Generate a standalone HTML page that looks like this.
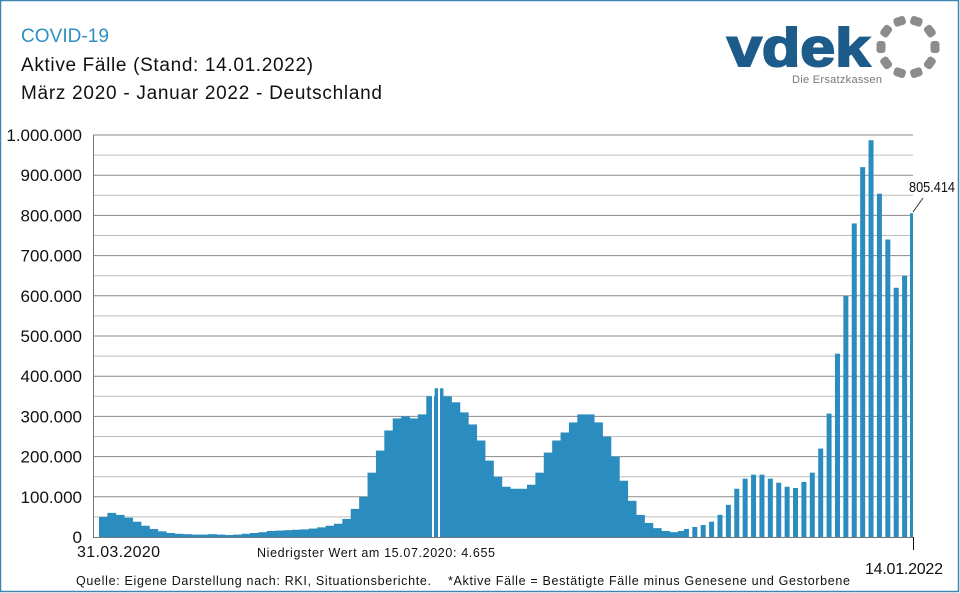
<!DOCTYPE html>
<html><head><meta charset="utf-8"><style>
body{margin:0;background:#fff}
svg{display:block;font-family:"Liberation Sans",sans-serif}
</style></head><body>
<svg id="chart" width="960" height="593" viewBox="0 0 960 593" xmlns="http://www.w3.org/2000/svg">
<rect x="0.5" y="0.5" width="958" height="591" fill="#fff" stroke="#3f86b0" stroke-width="1.5"/>
<text x="21" y="42" font-size="19" fill="#2f8fc4" textLength="88">COVID-19</text>
<text x="21" y="71" font-size="19" fill="#111" textLength="292">Aktive Fälle (Stand: 14.01.2022)</text>
<text x="21" y="99" font-size="19" fill="#111" textLength="361">März 2020 - Januar 2022 - Deutschland</text>
<g>
<text x="727" y="66" font-size="54" font-weight="bold" fill="#1d5b8a" stroke="#1d5b8a" stroke-width="2" textLength="143" lengthAdjust="spacingAndGlyphs">vdek</text>
<text x="792" y="83" font-size="11" fill="#777" textLength="90">Die Ersatzkassen</text>
<g id="logoRing" fill="#8c8c8c"></g>
</g>
<g id="grid"></g>
<g id="bars"></g>
<g id="axis"></g>
<text x="77" y="557" font-size="16" fill="#111" textLength="83">31.03.2020</text>
<text x="257" y="557" font-size="12.5" fill="#111" textLength="238">Niedrigster Wert am 15.07.2020: 4.655</text>
<text x="865" y="574" font-size="16" fill="#111" textLength="78">14.01.2022</text>
<text x="76" y="585" font-size="12.5" fill="#111" textLength="355">Quelle: Eigene Darstellung nach: RKI, Situationsberichte.</text>
<text x="448" y="585" font-size="12.5" fill="#111" textLength="402">*Aktive Fälle = Bestätigte Fälle minus Genesene und Gestorbene</text>
<text x="909" y="192" font-size="15" fill="#111" textLength="46" lengthAdjust="spacingAndGlyphs">805.414</text>
<line x1="913" y1="212" x2="923" y2="198" stroke="#333" stroke-width="1"/>
</svg>
<script>
const yTicks = [0,100000,200000,300000,400000,500000,600000,700000,800000,900000,1000000];
const yTickLabels = ["0","100.000","200.000","300.000","400.000","500.000","600.000","700.000","800.000","900.000","1.000.000"];
const weeklyActive = [50,60,55,48,38,28,20,14,10,8,7,6,6,7,6,5,6,8,10,12,15,16,17,18,19,21,24,28,33,45,70,100,160,215,265,295,300,295,305,350,370,350,335,310,280,240,190,150,125,120,120,130,160,210,240,260,285,305,305,285,250,200,140,90,55,35,22,15,12,15,20,25,30,38,55,80,120,145,155,155,145,135,125,122,137,160,220,307,456,600,780,920,987,854,740,620,650,805.414];
const gapStartIndex = 70;

const NS="http://www.w3.org/2000/svg";
const X0=99, X1=913, Y0=537, Y1=135;
const yScale=v=>Y0-(v/1000000)*(Y0-Y1);
const n=weeklyActive.length;
const step=(X1-X0)/(n-1);
const xScale=i=>X0+i*step;
function mk(tag,attrs,parent){const e=document.createElementNS(NS,tag);for(const k in attrs)e.setAttribute(k,attrs[k]);parent.appendChild(e);return e;}

const grid=document.getElementById('grid');
for(let v=50000;v<=1000000;v+=50000){
  const major=v%100000===0;
  const l=mk('line',{x1:93,x2:X1,y1:yScale(v),y2:yScale(v),stroke:major?'#8a8a8a':'#bdbdbd','stroke-width':1},grid);
  
  
}
const axis=document.getElementById('axis');
const al=mk('line',{x1:93.5,x2:93.5,y1:Y1,y2:Y0,stroke:'#777','stroke-width':1},axis);


const bl=mk('line',{x1:93,x2:X1+1,y1:Y0+0.5,y2:Y0+0.5,stroke:'#777','stroke-width':1},axis);


const et=mk('line',{x1:X1+0.5,x2:X1+0.5,y1:Y0,y2:550,stroke:'#111','stroke-width':1},axis);


yTicks.forEach((v,i)=>{
  const t=mk('text',{x:82,y:yScale(v)+6,'font-size':17,'text-anchor':'end',fill:'#111'},axis);
  t.textContent=yTickLabels[i];
  
  
});

const bars=document.getElementById('bars');
weeklyActive.forEach((val,i)=>{
  const v=val*1000;
  const x=xScale(i);
  let x0,w;
  if(i<gapStartIndex){x0=x;w=step+0.4;}
  else{x0=x-2.5;w=5;}
  if(i===n-1){x0=X1-3;w=3;}
  const r=mk('rect',{x:x0,y:yScale(v),width:w,height:Y0-yScale(v),fill:'#2b8cbf'},bars);
  
  
});
[432,438].forEach(gx=>{
  const top=yScale(380000);
  const g=mk('rect',{x:gx,y:top,width:2,height:Y0-top,fill:'#fff'},bars);
  
  
});

const ring=document.getElementById('logoRing');
for(let k=0;k<10;k++){
  const a=k*36*Math.PI/180;
  const cx=908+27*Math.cos(a), cy=47+27*Math.sin(a);
  const r=mk('rect',{x:cx-6,y:cy-4.5,width:12,height:9,rx:3,transform:`rotate(${k*36+90} ${cx} ${cy})`},ring);
  
  
}
</script>
</body></html>
